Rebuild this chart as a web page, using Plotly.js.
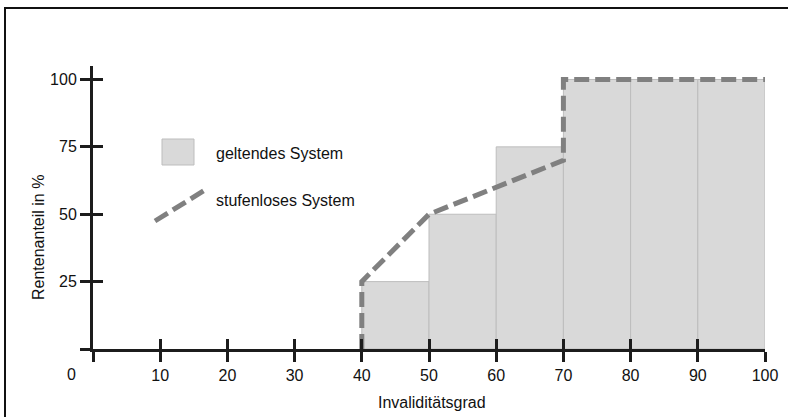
<!DOCTYPE html>
<html>
<head>
<meta charset="utf-8">
<script src="https://cdn.plot.ly/plotly-3.0.1.min.js"></script>
<style>
  html, body { margin: 0; padding: 0; background: #fff; }
  #wrap { position: relative; width: 788px; height: 417px; overflow: hidden; }
  #chart { width: 788px; height: 417px; }
  #frame { position: absolute; left: 4px; top: 7px; width: 900px; height: 500px;
           border-left: 2px solid #111; border-top: 2px solid #111; pointer-events: none; }
</style>
</head>
<body>
<div id="wrap">
  <div id="chart"></div>
  <div id="frame"></div>
</div>
<script>
// ---- data ----
const binCenters = [45, 55, 65, 75, 85, 95];          // Invaliditätsgrad bins (40-50, ..., 90-100)
const geltendValues = [25, 50, 75, 100, 100, 100];     // geltendes System (Rentenanteil %)
const stufenlosX = [40, 40, 50, 70, 70, 100];          // stufenloses System
const stufenlosY = [0, 25, 50, 70, 100, 100];
const xTickVals = [0, 10, 20, 30, 40, 50, 60, 70, 80, 90, 100];
const xTickText = ['', '10', '20', '30', '40', '50', '60', '70', '80', '90', '100'];
const yTickVals = [0, 25, 50, 75, 100];
const yTickText = ['', '25', '50', '75', '100'];
const legendLabels = ['geltendes System', 'stufenloses System'];
const xTitle = 'Invaliditätsgrad';
const yTitle = 'Rentenanteil in %';

// ---- geometry helpers (pixel -> paper) ----
const W = 788, H = 417;
const M = { l: 93, r: 23, t: 66, b: 68 };
const PW = W - M.l - M.r, PH = H - M.t - M.b;
const px = x => (x - M.l) / PW;
const py = y => (H - M.b - y) / PH;

const FONT = 'Liberation Sans, Arial, sans-serif';
const AX = '#1c1c1c';

const traces = [
  {
    type: 'bar', x: binCenters, y: geltendValues, width: 10,
    marker: { color: '#d9d9d9', line: { color: '#bdbdbd', width: 1 } },
    hoverinfo: 'skip', showlegend: false
  },
  {
    type: 'scatter', mode: 'lines', x: stufenlosX, y: stufenlosY,
    line: { color: '#808080', width: 5, dash: '15px,6px' },
    hoverinfo: 'skip', showlegend: false
  },
  {
    type: 'scatter', mode: 'markers', x: [0], y: [0], xaxis: 'x2', yaxis: 'y2',
    marker: { opacity: 0 }, hoverinfo: 'skip', showlegend: false
  }
];

const layout = {
  width: W, height: H,
  margin: M,
  paper_bgcolor: '#fff', plot_bgcolor: 'rgba(0,0,0,0)',
  font: { family: FONT, size: 16, color: '#111' },
  showlegend: false,
  bargap: 0,
  xaxis: {
    range: [0, 100], tickvals: xTickVals, ticktext: xTickText,
    ticks: 'outside', ticklen: 10, tickwidth: 3, tickcolor: AX,
    showline: true, linewidth: 3, linecolor: AX,
    showgrid: false, zeroline: false, fixedrange: true,
    tickfont: { family: FONT, size: 16, color: '#111' }
  },
  yaxis: {
    range: [0, 105], tickvals: yTickVals, ticktext: yTickText,
    ticks: 'outside', ticklen: 10, tickwidth: 3, tickcolor: AX,
    showline: true, linewidth: 3, linecolor: AX,
    showgrid: false, zeroline: false, fixedrange: true,
    tickfont: { family: FONT, size: 16, color: '#111' }
  },
  xaxis2: {
    overlaying: 'x', anchor: 'y', side: 'bottom', range: [0, 100], tickvals: xTickVals,
    ticks: 'inside', ticklen: 10, tickwidth: 3, tickcolor: AX,
    showticklabels: false, showline: false, showgrid: false, zeroline: false, fixedrange: true
  },
  yaxis2: {
    overlaying: 'y', anchor: 'x', side: 'left', range: [0, 105], tickvals: yTickVals,
    ticks: 'inside', ticklen: 10, tickwidth: 3, tickcolor: AX,
    showticklabels: false, showline: false, showgrid: false, zeroline: false, fixedrange: true
  },
  shapes: [
    { type: 'rect', xref: 'paper', yref: 'paper',
      x0: px(162), x1: px(194), y0: py(165), y1: py(139),
      fillcolor: '#d9d9d9', line: { color: '#bdbdbd', width: 1 } },
    { type: 'line', xref: 'paper', yref: 'paper',
      x0: px(155), y0: py(221), x1: px(205), y1: py(190),
      line: { color: '#808080', width: 5, dash: '15px,6px' } }
  ],
  annotations: [
    { xref: 'paper', yref: 'paper', x: px(214), y: py(153), xanchor: 'left', yanchor: 'middle',
      text: legendLabels[0], showarrow: false, font: { family: FONT, size: 16, color: '#111' } },
    { xref: 'paper', yref: 'paper', x: px(214), y: py(201), xanchor: 'left', yanchor: 'middle',
      text: legendLabels[1], showarrow: false, font: { family: FONT, size: 16, color: '#111' } },
    { xref: 'paper', yref: 'paper', x: px(71), y: py(374), xanchor: 'center', yanchor: 'middle',
      text: '0', showarrow: false, font: { family: FONT, size: 16, color: '#111' } },
    { xref: 'paper', yref: 'paper', x: px(432), y: py(402), xanchor: 'center', yanchor: 'middle',
      text: xTitle, showarrow: false, font: { family: FONT, size: 16, color: '#111' } },
    { xref: 'paper', yref: 'paper', x: px(38), y: py(238), xanchor: 'center', yanchor: 'middle',
      text: yTitle, textangle: -90, showarrow: false, font: { family: FONT, size: 16, color: '#111' } }
  ]
};

Plotly.newPlot('chart', traces, layout, { displayModeBar: false, staticPlot: true });
</script>
</body>
</html>
